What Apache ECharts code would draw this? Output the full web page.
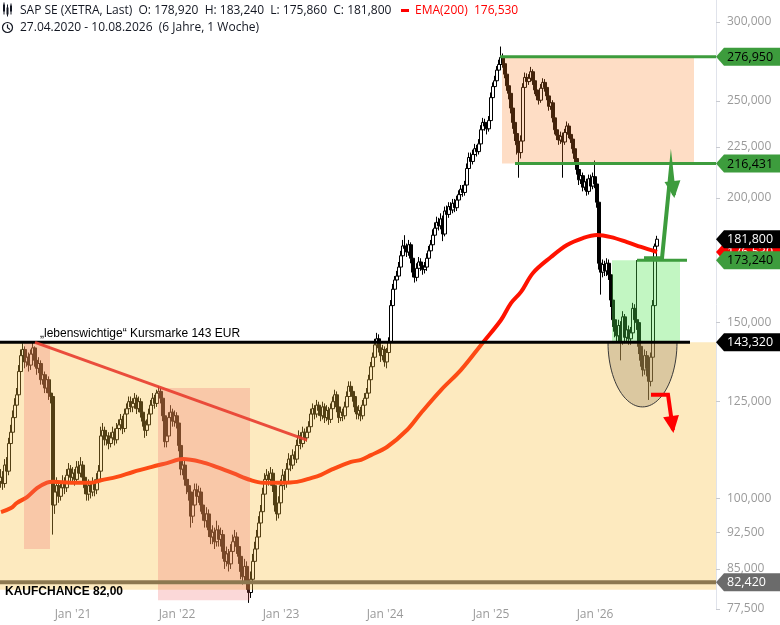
<!DOCTYPE html>
<html><head><meta charset="utf-8">
<script src="https://cdn.jsdelivr.net/npm/echarts@6/dist/echarts.min.js"></script>
<style>html,body{margin:0;padding:0;background:#fff}#c{width:780px;height:625px}</style>
</head><body><div id="c"></div>
<script>
// ---------- DATA (weekly, EUR) ----------
const startDate = '2020-04-27';
const slotCount = 358; // weekly slots on the time axis (incl. empty space at right)
const firstOpen = 104.0;
const lastOpen = 178.92;
const closes = [
105.0,103.5,108.0,106.5,113.5,116.5,120.5,124.0,127.0,134.0,
139.0,141.0,137.0,138.5,136.0,139.5,141.5,137.5,135.0,136.5,
131.5,133.0,129.0,131.5,127.5,126.5,98.5,101.5,103.0,100.5,
102.5,104.0,102.5,105.5,107.0,105.0,106.0,104.5,107.5,106.0,
108.0,105.0,102.5,101.0,103.0,101.5,103.5,102.0,104.5,106.5,
115.5,117.0,114.5,115.5,113.5,115.0,116.5,114.5,117.5,118.5,
120.0,117.5,121.5,123.0,125.0,123.5,124.5,126.0,123.0,125.0,
122.0,119.5,117.0,118.5,121.5,124.0,126.0,124.5,127.5,128.0,
126.0,121.0,114.0,115.5,120.5,122.0,119.5,121.0,119.0,113.0,
107.0,108.0,104.5,103.0,101.5,96.0,98.5,102.0,100.5,101.5,
98.5,96.5,95.0,96.5,93.0,91.5,92.5,90.5,93.0,91.0,
92.0,88.5,86.5,88.0,86.0,88.5,90.5,91.5,89.5,87.5,
84.5,83.5,85.5,82.5,80.5,83.0,86.5,89.0,91.5,94.5,
97.0,101.0,104.5,105.5,104.5,106.0,103.0,98.5,96.5,99.0,
103.0,105.5,103.5,107.0,109.5,108.0,110.5,109.5,113.0,115.5,
113.5,116.5,115.0,116.5,118.0,121.5,123.0,121.5,124.0,122.5,
121.0,123.5,120.5,122.5,120.0,123.0,125.0,127.0,123.5,120.5,
122.0,121.0,123.5,126.5,129.5,128.0,126.5,123.5,121.5,122.5,
121.0,124.0,126.0,127.5,131.5,135.5,138.5,142.5,144.5,141.5,
139.0,141.0,137.0,140.0,143.5,156.0,162.0,165.5,167.0,170.5,
175.0,179.0,178.0,176.5,179.5,174.0,168.5,166.5,170.0,172.5,
171.0,169.5,170.5,174.0,177.0,179.5,183.5,186.5,189.0,187.5,
190.5,184.0,194.0,192.5,196.0,194.5,197.5,195.5,199.0,201.5,
204.0,202.5,206.0,214.0,219.5,217.5,221.0,224.0,222.5,226.5,
234.0,238.0,236.0,234.5,239.0,252.0,258.5,262.0,268.5,272.0,
276.5,272.5,266.0,259.0,254.5,246.0,238.0,232.0,226.0,222.0,
228.0,258.0,264.0,261.5,263.5,267.5,262.0,256.5,253.0,250.5,
257.5,261.0,258.0,253.0,247.0,249.0,240.5,234.0,231.0,228.5,
230.5,227.5,232.5,236.0,231.5,229.0,224.0,219.0,213.5,208.5,
210.5,205.0,207.5,203.0,209.0,205.5,210.0,206.5,198.0,172.0,
168.5,171.5,169.0,172.0,167.5,158.0,151.0,147.0,145.5,149.0,
143.5,152.0,145.0,147.5,144.5,146.5,155.0,151.0,150.0,142.0,
137.5,134.5,139.0,135.0,131.0,138.5,156.0,178.9,181.8
];
const highs = [
107,106.5,109.5,110,115,118.5,122.5,126,129,136,
141,143,142,140.5,140,141,143.32,142,139,138.5,
137.5,135,134,133,132.5,129,127,103,105,104,
104,105.5,105,107,108.5,108,107.5,107,109,109,
110,109,106,104,104.5,104,105,104.5,106,108,
118,119,118,117,116.5,116.5,118,117.5,119,120,
121.5,121,123,124.5,126.5,126.5,126,127.5,127,126.5,
126,123,120.5,120,123,125.5,127.5,127,128.5,129.5,
129,127,122,117,122,124,123,122.5,122,120,
114,110,109.5,106,104.5,102.5,100,103.5,103.5,103,
102.5,99.5,97.5,98,97.5,94,94,93.5,95,94,
93.5,93,89.5,89.5,89,90,92,93,92.5,90.5,
88.5,86,87,86.5,83.5,84.5,88,90.5,93,96,
98.5,102.5,106,107,106.5,107.5,107,104,99.5,100.5,
104.5,107,106.5,108.5,111,110.5,112,111.5,114.5,117,
116.5,118,117.5,118,119.5,123,124.5,124,125.5,125,
123.5,125,124.5,124,123.5,124.5,126.5,128.5,128,124.5,
123.5,123,125,128,131,131,129,127.5,124.5,124,
123.5,125.5,127.5,129,133,137,140,144.5,146.5,146,
142.5,142.5,142,141.5,145,158,164,167,169,172.5,
177,181.5,183.5,180,181.5,180.5,175,170,172,174.5,
174,172.5,172.5,176,179,181.5,186,189,191.5,191,
193,192,196,196.5,198,198,199.5,199.5,201,203.5,
206,206,208,216.5,222,222,223.5,226.5,226,229,
236.5,240.5,240,238,241.5,255,261,265,271,275,
283.5,279,274,268,261.5,256.5,248,240.5,234,228.5,
231,260.5,267,266.5,266,270.5,269,263.5,258.5,255,
260,263.5,263,259.5,254.5,251.5,250.5,242,236,233,
233,232.5,234.5,238.5,237.5,233,230.5,225.5,220.5,215,
213,212,210,209,211,211,212,218,208,199,
174,173.5,173,174,173.5,168.5,159.5,152.5,149,151,
150.5,154,153,149.5,149,148.5,157,156.5,173.24,151,
143.5,139,141,140.5,136.5,140,158,180,183.24
];
const lows = [
102.5,102,102.5,105,105.5,112,115,119,122.5,126,
132.5,137.5,135,135.5,134,134.5,138,135.5,133,133.5,
130,130,127.5,127.5,125.5,124.5,92,96.5,100,99,
99.5,101,101,101.5,104.5,103.5,103.5,103,103.5,104.5,
105,103.5,101,99.5,99.5,100,100.5,100.5,101,103.5,
105.5,114,113,113,112,112.5,114,113,113.5,116.5,
117,116,116.5,120,122,122,122,123,121.5,122,
120.5,118,115,115.5,117.5,120.5,123,123,123.5,126,
124.5,119.5,112.5,112.5,114.5,119,118,118,117.5,111.5,
105.5,105.5,103,101,99.5,93.5,94.5,97,99,99,
97,95,93.5,93.5,91.5,90,90,89,89.5,89.5,
89.5,87,85,85.5,84.5,85,87.5,89.5,88,86,
83,82,82.5,81,78.6,79.5,82,85.5,88,90.5,
93.5,96,100,103,103,103,101.5,97,95,95.5,
98,102,102,102.5,106,106.5,107,108,108.5,112,
112,112.5,113.5,114,115,117,120,120,120.5,121,
119.5,120,119,119.5,118.5,119,122,124,122,119,
119.5,119.5,120,122.5,125.5,126.5,125,122,120,120,
119.5,120,123,125,126.5,130.5,134.5,137.5,141,140,
137,137.5,135.5,135,139,142.5,155,160.5,164,165.5,
169.5,174,176,174.5,175,172,166.5,164.5,165,168.5,
169,167.5,168,169,172.5,175.5,178,182,185,185.5,
186,181,183,190.5,191,192.5,193,193.5,194,197.5,
200,200.5,201,205,213,215.5,216,219.5,220,221,
225,232.5,233.5,231.5,233,237.5,250.5,256.5,260,266.5,
270.5,270,263.5,256,251,243,234.5,228,221,209.5,
219,226.5,256,259,259.5,261.5,259.5,254,250.5,248,
249,255.5,255.5,250.5,244.5,245,238,231.5,228.5,226,
226.5,209.5,226,231,229.5,227,221.5,216.5,211,206,
206.5,203,203.5,201,201.5,203.5,204,204.5,195.5,169.5,
160,166.5,167,167,165.5,155.5,148.5,145,143.5,143.5,
137.5,142.5,143,143.5,142.5,142.5,145.5,149,147.5,139.5,
135.5,132.5,133,132.5,125.5,129.5,137.5,155,175.86
];
// EMA(200) read at sample weeks: [week index, EUR]
const ema200 = [[0,96.9],[5,97.8],[8,99.0],[13,100.3],[18,102.4],[23,103.7],[26,103.9],[35,103.7],[45,103.7],[50,104.3],[58,105.1],[66,106.3],[75,107.5],[83,108.5],[91,109.5],[100,108.8],[108,107.5],[116,106.0],[125,104.3],[131,103.7],[140,103.7],[148,103.9],[155,104.8],[160,105.6],[165,106.8],[175,108.8],[180,109.3],[185,110.5],[193,112.6],[203,117.1],[210,121.8],[220,128.4],[230,134.5],[241,143.3],[250,150.9],[255,156.9],[260,161.0],[266,168.2],[275,174.5],[283,179.4],[291,182.3],[298,183.6],[305,182.7],[313,180.6],[320,178.6],[328,176.53]];
const emaLast = 176.53;
const yTicks = [77.5,85,92.5,100,125,150,200,225,250,300];
const xTickYears = [2021,2022,2023,2024,2025,2026];
const xTickLabels = ["Jan '21","Jan '22","Jan '23","Jan '24","Jan '25","Jan '26"];
// annotation geometry in data space: [week0, week1, EURlow, EURhigh]
const zoneBoxes = [[-0.5,357.5,81.0,143.32],[11.5,24.5,89.0,143.32],[78.5,124.5,79.1,129.0],[250.5,346.5,216.431,276.95],[305.5,339.5,143.32,173.24]];
const levelLines = [[-0.5,344.5,143.32],[-0.5,357.5,82.42],[249.5,357.5,276.95],[257,357.5,216.431],[318,343,173.24]];
const trendLine = [[17,143.32],[153,114.4]];
const bowl = [303.5,338,143.32,123.5];
const greenArrow = [[321.5,174.0],[330.5,174.0],[335,214.3],[336.5,201.3]];
const redArrow = [[325,127.0],[333.5,127.0],[336,117.1]];
const noteTexts = ['\u201Elebenswichtige\u201C Kursmarke 143 EUR','KAUFCHANCE 82,00'];
const notePos = [[19.5,143.32],[-0.5,82.42]];
const tagValues = [176.53,276.95,216.431,181.8,173.24,143.32,82.42];

// ---------- STYLE ----------
const zoneFill = ['rgba(250,190,60,0.33)','rgba(240,100,100,0.25)','rgba(240,100,100,0.25)','rgba(250,130,40,0.27)','rgba(80,230,80,0.35)'];
const levelColor = ['#000','#8c7850','#3d9c3d','#3d9c3d','#3d9c3d'];
const levelWidth = [3,4,3,3,3];
const tagBg = ['#ff0000','#3d9c3d','#3d9c3d','#000','#3d9c3d','#000','#6b6b6b'];
const tagFg = ['#fff','#000','#000','#fff','#000','#fff','#fff'];
const noteDy = [-9,9];
const noteDx = [0,5];
const noteFont = ['12px "Liberation Sans", Arial, sans-serif','bold 12px "Liberation Sans Narrow", "Liberation Sans", Arial, sans-serif'];

const fmt = v => (Math.round(v*1000)/1000).toFixed(3).replace('.', ',');
const weeks = [];
const t0 = Date.parse(startDate + 'T00:00:00Z');
for (let i = 0; i < slotCount; i++) weeks.push(new Date(t0 + i*7*864e5).toISOString().slice(0,10));
const candles = closes.map((c,i) => {
  const o = i === 0 ? firstOpen : (i === closes.length-1 ? lastOpen : closes[i-1]);
  return [o, c, lows[i], highs[i]];
});
const last = candles[candles.length-1];

function xPx(api, idx){
  const base = Math.max(0, Math.min(slotCount-1, Math.round(idx)));
  const bw = api.coord([1,100])[0] - api.coord([0,100])[0];
  return api.coord([base,100])[0] + (idx-base)*bw;
}
function yPx(api, v){ return api.coord([0, v])[1]; }
function arrowHead(pts, len, half, color){
  const a = pts[pts.length-2], b = pts[pts.length-1];
  const dx = b[0]-a[0], dy = b[1]-a[1], L = Math.hypot(dx,dy) || 1;
  const ux = dx/L, uy = dy/L, nx = -uy, ny = ux;
  const bx = b[0]-ux*len, by = b[1]-uy*len;
  return {type:'polygon', shape:{points:[[b[0]+ux*3,b[1]+uy*3],[bx+nx*half,by+ny*half],[bx-nx*half,by-ny*half]]}, style:{fill:color}};
}
function annoSeries(z, build){
  return {type:'custom', z:z, silent:true, clip:false, data:[[0,100]], encode:{x:0,y:1},
    renderItem:(params, api) => ({type:'group', children: build(params, api)})};
}

const chart = echarts.init(document.getElementById('c'), null, {renderer:'canvas'});
chart.setOption({
  animation:false,
  backgroundColor:'#fff',
  grid:{left:0, right:64, top:0, bottom:16, containLabel:false},
  xAxis:{type:'category', data:weeks, boundaryGap:true,
    axisLine:{show:false}, axisTick:{show:false}, splitLine:{show:false},
    axisLabel:{color:'#9a9a9a', fontSize:12, fontFamily:'"Open Sans", sans-serif', margin:0,
      interval:(idx, val) => idx > 0 && val.slice(5,7) === '01' && weeks[idx-1].slice(5,7) === '12',
      formatter:(val) => { const k = xTickYears.indexOf(+val.slice(0,4)); return k >= 0 ? xTickLabels[k] : ''; }}},
  yAxis:{type:'log', logBase:10, position:'right', min:77.5, max:315.61, scale:true,
    axisLine:{show:true, lineStyle:{color:'#e0e3eb', width:1}},
    axisTick:{show:true, length:4, lineStyle:{color:'#c8cad0'}, customValues:yTicks},
    splitLine:{show:false},
    axisLabel:{color:'#9a9a9a', fontSize:12, fontFamily:'"Open Sans", sans-serif', margin:11, customValues:yTicks, formatter:v => fmt(v)}},
  series:[
    {type:'candlestick', data:candles, z:1, barWidth:3, silent:true,
      itemStyle:{color:'#ffffff', color0:'#000000', borderColor:'#000000', borderColor0:'#000000', borderWidth:1}},
    {type:'line', data:ema200, z:2, smooth:0.35, showSymbol:false, silent:true,
      lineStyle:{color:'#ff1200', width:4}},
    annoSeries(3, (p, api) => zoneBoxes.map((b,k) => {
      const x0 = xPx(api,b[0]), x1 = xPx(api,b[1]), y0 = yPx(api,b[3]), y1 = yPx(api,b[2]);
      return {type:'rect', shape:{x:x0, y:y0, width:x1-x0, height:y1-y0}, style:{fill:zoneFill[k]}};
    })),
    annoSeries(4, (p, api) => {
      const x0 = xPx(api,bowl[0]), x1 = xPx(api,bowl[1]), ty = yPx(api,bowl[2]), by = yPx(api,bowl[3]);
      const cx = (x0+x1)/2, rx = (x1-x0)/2, ry = by-ty, pts = [];
      for (let k = 0; k <= 48; k++){ const t = Math.PI*k/48; pts.push([cx + rx*Math.cos(t), ty + ry*Math.sin(t)]); }
      return [{type:'polygon', shape:{points:pts}, style:{fill:'rgba(150,128,95,0.32)', stroke:'#3a3a3a', lineWidth:1}}];
    }),
    annoSeries(5, (p, api) => {
      const out = levelLines.map((l,k) => ({type:'line', shape:{x1:xPx(api,l[0]), y1:yPx(api,l[2]), x2:xPx(api,l[1]), y2:yPx(api,l[2])}, style:{stroke:levelColor[k], lineWidth:levelWidth[k]}}));
      out.push({type:'line', shape:{x1:xPx(api,trendLine[0][0]), y1:yPx(api,trendLine[0][1]), x2:xPx(api,trendLine[1][0]), y2:yPx(api,trendLine[1][1])}, style:{stroke:'rgba(232,60,45,0.9)', lineWidth:3}});
      const g = greenArrow.map(q => [xPx(api,q[0]), yPx(api,q[1])]);
      out.push({type:'polyline', shape:{points:g}, style:{stroke:'#3d9c3d', lineWidth:4, fill:null, lineJoin:'miter'}});
      out.push(arrowHead(g, 14, 8, '#3d9c3d'));
      const r = redArrow.map(q => [xPx(api,q[0]), yPx(api,q[1])]);
      out.push({type:'polyline', shape:{points:r}, style:{stroke:'#ff0000', lineWidth:4, fill:null, lineJoin:'miter'}});
      out.push(arrowHead(r, 14, 8, '#ff0000'));
      return out;
    }),
    annoSeries(6, (p, api) => {
      const out = noteTexts.map((t,k) => ({type:'text', x:xPx(api,notePos[k][0]) + noteDx[k], y:yPx(api,notePos[k][1]) + noteDy[k],
        style:{text:t, fill:'#000', font:noteFont[k], align:'left', verticalAlign:'middle'}}));
      const right = p.coordSys.x + p.coordSys.width;
      tagValues.forEach((v,k) => {
        const y = yPx(api,v);
        out.push({type:'polygon', shape:{points:[[right,y],[right+8,y-9],[780,y-9],[780,y+9],[right+8,y+9]]}, style:{fill:tagBg[k]}});
        out.push({type:'text', x:right+11, y:y+0.5, style:{text:fmt(v), fill:tagFg[k], font:'12.5px "Open Sans", sans-serif', align:'left', verticalAlign:'middle'}});
      });
      return out;
    })
  ],
  graphic:[
    {type:'group', left:0, top:0, children:[
      {type:'rect', shape:{x:5,y:6,width:2,height:7}, style:{fill:'#131722'}},
      {type:'line', shape:{x1:6,y1:4,x2:6,y2:16}, style:{stroke:'#131722', lineWidth:1}},
      {type:'rect', shape:{x:8.5,y:9,width:2,height:7}, style:{fill:'#131722'}},
      {type:'line', shape:{x1:9.5,y1:6,x2:9.5,y2:18}, style:{stroke:'#131722', lineWidth:1}},
      {type:'rect', shape:{x:12,y:7,width:2,height:6}, style:{fill:'#131722'}},
      {type:'line', shape:{x1:13,y1:5,x2:13,y2:16}, style:{stroke:'#131722', lineWidth:1}},
      {type:'circle', shape:{cx:9.5,cy:29,r:5}, style:{fill:'none', stroke:'#131722', lineWidth:1.2}},
      {type:'polyline', shape:{points:[[9.5,26],[9.5,29.3],[12,31]]}, style:{fill:'none', stroke:'#131722', lineWidth:1.2}},
      {type:'text', x:22, y:12, style:{text:'SAP SE (XETRA, Last)  O: ' + fmt(last[0]) + '  H: ' + fmt(last[3]) + '  L: ' + fmt(last[2]) + '  C: ' + fmt(last[1]), fill:'#131722', font:'12px "Open Sans", sans-serif', verticalAlign:'middle'}},
      {type:'rect', shape:{x:403,y:10.5,width:8,height:3}, style:{fill:'#ff0000'}},
      {type:'text', x:417, y:12, style:{text:'EMA(200)  ' + fmt(emaLast), fill:'#ff0000', font:'12px "Open Sans", sans-serif', verticalAlign:'middle'}},
      {type:'text', x:22, y:29, style:{text:weeks[0].split('-').reverse().join('.') + ' - ' + weeks[closes.length-1].split('-').reverse().join('.') + '  (6 Jahre, 1 Woche)', fill:'#131722', font:'12px "Open Sans", sans-serif', verticalAlign:'middle'}}
    ]}
  ]
});
</script>
</body></html>
